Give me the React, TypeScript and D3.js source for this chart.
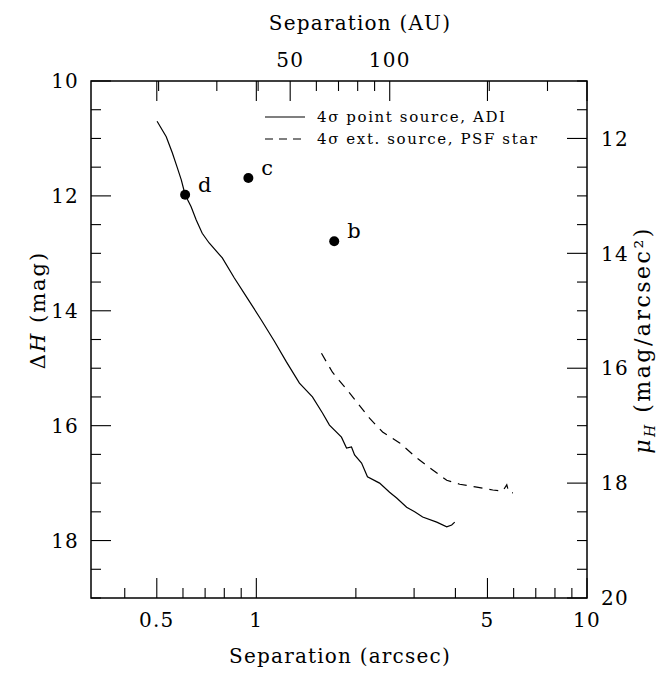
// @ts-nocheck
import { useEffect, useRef } from "react";
import * as d3 from "d3";

// 4 sigma point source limit (ADI), separation in arcsec vs delta H
const adiSep = [0.501, 0.534, 0.557, 0.576, 0.593, 0.609, 0.635, 0.658, 0.686, 0.72, 0.789, 0.858, 0.939, 1.035, 1.134, 1.233, 1.35, 1.478, 1.585, 1.664, 1.809, 1.874, 1.94, 1.982, 2.081, 2.168, 2.359, 2.529, 2.657, 2.848, 3.012, 3.184, 3.512, 3.765, 3.898, 3.981];
const adiMag = [10.7, 10.97, 11.25, 11.5, 11.72, 11.98, 12.19, 12.42, 12.65, 12.82, 13.08, 13.43, 13.78, 14.16, 14.53, 14.89, 15.26, 15.5, 15.78, 15.99, 16.2, 16.39, 16.37, 16.51, 16.65, 16.89, 17.0, 17.16, 17.26, 17.42, 17.5, 17.59, 17.68, 17.76, 17.73, 17.68];

// 4 sigma extended source limit (PSF star)
const extSep = [1.574, 1.699, 1.913, 2.199, 2.409, 2.713, 3.052, 3.415, 3.765, 4.122, 4.642, 5.19, 5.56, 5.72, 5.8, 5.97];
const extMag = [14.74, 15.07, 15.43, 15.87, 16.11, 16.3, 16.56, 16.77, 16.95, 17.02, 17.07, 17.12, 17.14, 17.03, 17.16, 17.17];

// companions
const compNames = ["d", "c", "b"];
const compSep = [0.609, 0.946, 1.72];
const compMag = [11.98, 11.69, 12.79];

const xTickLabels = [0.5, 1, 5, 10];
const xMinorTicks = [0.4, 0.6, 0.7, 0.8, 0.9, 2, 3, 4, 6, 7, 8, 9];
const auMajor = [50, 100];
const auMinor = [20, 30, 40, 60, 70, 80, 90, 200, 300];
const distPc = 39.5;
const leftMajor = [10, 12, 14, 16, 18];
const rightMajor = [12, 14, 16, 18, 20];

const legendLabels = ["4\u03c3 point source, ADI", "4\u03c3 ext. source, PSF star"];

const App = () => {
  const ref = useRef(null);

  useEffect(() => {
    const width = 670;
    const height = 673;
    const m = { top: 81, right: 83, bottom: 75, left: 91 };
    const font = "'DejaVu Serif', 'Liberation Serif', serif";

    d3.select(ref.current).selectAll("*").remove();
    const svg = d3
      .select(ref.current)
      .append("svg")
      .attr("width", width)
      .attr("height", height)
      .style("position", "absolute")
      .style("left", 0)
      .style("top", 0);

    const x = d3.scaleLog().domain([Math.pow(10, -0.5), 10]).range([m.left, width - m.right]);
    const y = d3.scaleLinear().domain([10, 19]).range([m.top, height - m.bottom]);
    const y2 = d3.scaleLinear().domain([11, 20]).range([m.top, height - m.bottom]);
    const x0 = m.left, x1 = width - m.right, y0 = m.top, y1 = height - m.bottom;

    const tick = (x1_, y1_, x2_, y2_) =>
      svg.append("line").attr("x1", x1_).attr("y1", y1_).attr("x2", x2_).attr("y2", y2_)
        .attr("stroke", "#000").attr("stroke-width", 1.1);
    const label = (px, py, t, size = 20) =>
      svg.append("text").attr("x", px).attr("y", py).attr("font-family", font)
        .attr("font-size", size).attr("letter-spacing", 1.2).attr("fill", "#000").text(t);

    // bottom axis ticks
    xTickLabels.forEach((v) => {
      tick(x(v), y1, x(v), y1 - 20);
      tick(x(v), y0, x(v), y0 + 20);
      label(x(v), y1 + 29, v).attr("text-anchor", "middle");
    });
    xMinorTicks.forEach((v) => tick(x(v), y1, x(v), y1 - 10));

    // top axis (AU)
    auMajor.forEach((v) => {
      const px = x(v / distPc);
      tick(px, y0, px, y0 + 20);
      label(px, y0 - 14, v).attr("text-anchor", "middle");
    });
    auMinor.forEach((v) => {
      const px = x(v / distPc);
      tick(px, y0, px, y0 + 10);
    });

    // left axis
    d3.range(10, 19.01, 0.5).forEach((v) => {
      const major = v % 2 === 0;
      tick(x0, y(v), x0 + (major ? 20 : 10), y(v));
    });
    leftMajor.forEach((v) => {
      label(x0 - 12, y(v), v).attr("dy", "0.36em").attr("text-anchor", "end");
    });

    // right axis
    d3.range(11, 20.01, 0.5).forEach((v) => {
      const major = v % 2 === 0;
      tick(x1, y2(v), x1 - (major ? 20 : 10), y2(v));
    });
    rightMajor.forEach((v) => {
      label(x1 + 14, y2(v), v).attr("dy", "0.36em").attr("text-anchor", "start");
    });

    // frame
    svg.append("rect").attr("x", x0).attr("y", y0).attr("width", x1 - x0).attr("height", y1 - y0)
      .attr("fill", "none").attr("stroke", "#000").attr("stroke-width", 1.5);

    // axis titles
    label(340, 663, "Separation (arcsec)").attr("text-anchor", "middle");
    label(360, 30, "Separation (AU)").attr("text-anchor", "middle");

    const yl = label(0, 0, null, 21).attr("x", null).attr("y", null).attr("letter-spacing", 2)
      .attr("transform", "translate(45,310) rotate(-90)").attr("text-anchor", "middle");
    yl.append("tspan").text("\u0394");
    yl.append("tspan").attr("font-style", "italic").text("H");
    yl.append("tspan").text(" (mag)");

    const yr = label(0, 0, null, 22).attr("x", null).attr("y", null).attr("letter-spacing", 2.5)
      .attr("transform", "translate(650,340) rotate(-90)").attr("text-anchor", "middle");
    yr.append("tspan").attr("font-style", "italic").text("\u03bc");
    yr.append("tspan").attr("font-style", "italic").attr("font-size", 14).attr("dy", 5).text("H");
    yr.append("tspan").attr("dy", -5).text(" (mag/arcsec\u00b2)");

    // curves
    const line = d3.line().x((d) => x(d[0])).y((d) => y(d[1]));
    svg.append("path").datum(adiSep.map((s, i) => [s, adiMag[i]]))
      .attr("d", line).attr("fill", "none").attr("stroke", "#000").attr("stroke-width", 1.2);
    svg.append("path").datum(extSep.map((s, i) => [s, extMag[i]]))
      .attr("d", line).attr("fill", "none").attr("stroke", "#000").attr("stroke-width", 1.2)
      .attr("stroke-dasharray", "9,7");

    // companions
    compNames.forEach((n, i) => {
      svg.append("circle").attr("cx", x(compSep[i])).attr("cy", y(compMag[i])).attr("r", 5).attr("fill", "#000");
      label(x(compSep[i]) + 13, y(compMag[i]) - 3, n, 21).attr("letter-spacing", 0);
    });

    // legend
    legendLabels.forEach((t, i) => {
      const ly = 117 + i * 22;
      tick(265, ly, 305, ly).attr("stroke-dasharray", i === 1 ? "8,6" : null);
      label(317, ly, t, 15).attr("dy", "0.36em").attr("letter-spacing", 1.6);
    });
  }, []);

  return <div ref={ref} />;
};

export default App;
